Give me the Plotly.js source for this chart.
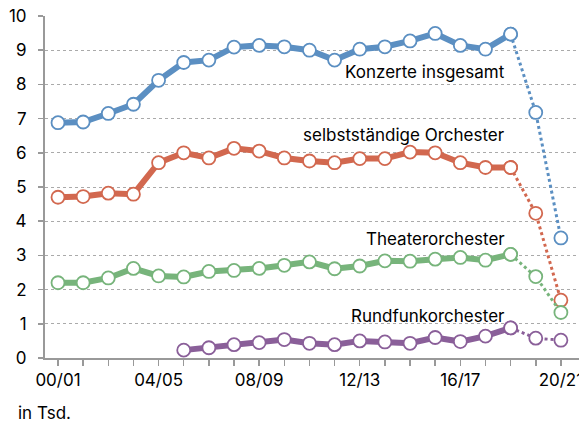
<!DOCTYPE html>
<html>
<head>
<meta charset="utf-8">
<script src="https://cdn.plot.ly/plotly-3.0.1.min.js"></script>
<style>html,body{margin:0;padding:0;background:#fff;}#chart{width:579px;height:424px;}</style>
</head>
<body>
<div id="chart"></div>
<script>
const seasons = ["00/01","01/02","02/03","03/04","04/05","05/06","06/07","07/08","08/09","09/10","10/11","11/12","12/13","13/14","14/15","15/16","16/17","17/18","18/19","19/20","20/21"];
const tickLabels = ["00/01","","","","04/05","","","","08/09","","","","12/13","","","","16/17","","","","20/21"];
const konzerte = [6.88,6.90,7.15,7.42,8.12,8.64,8.71,9.09,9.14,9.10,9.00,8.71,9.03,9.10,9.27,9.49,9.14,9.03,9.47,7.18,3.51];
const selbst = [4.70,4.72,4.82,4.79,5.71,6.00,5.85,6.13,6.05,5.85,5.76,5.71,5.83,5.83,6.02,6.00,5.71,5.57,5.57,4.23,1.69];
const theater = [2.20,2.20,2.34,2.62,2.40,2.37,2.53,2.56,2.62,2.71,2.81,2.61,2.69,2.84,2.83,2.89,2.94,2.86,3.03,2.38,1.33];
const rundfunk = [null,null,null,null,null,0.23,0.30,0.39,0.45,0.54,0.43,0.39,0.50,0.47,0.43,0.60,0.48,0.64,0.88,0.58,0.52];
const seriesNames = ["Konzerte insgesamt","selbstständige Orchester","Theaterorchester","Rundfunkorchester"];
const seriesData = [konzerte, selbst, theater, rundfunk];
const colors = ["#5b8fc2","#d2684f","#77b47b","#8a5f99"];
const labelY = [8.36, 6.52, 3.48, 1.23];
const cut = 18;

const traces = [];
seriesData.forEach((vals, i) => {
  traces.push({
    x: seasons.slice(cut), y: vals.slice(cut), type: "scatter", mode: "lines+markers",
    line: {color: colors[i], width: 3, dash: "dot"},
    marker: {symbol: "circle", size: 13, color: "#fff", line: {color: colors[i], width: 1.8}},
    hoverinfo: "skip", showlegend: false
  });
  traces.push({
    x: seasons.slice(0, cut + 1), y: vals.slice(0, cut + 1), type: "scatter", mode: "lines+markers",
    line: {color: colors[i], width: 6},
    marker: {symbol: "circle", size: 13, color: "#fff", line: {color: colors[i], width: 1.8}},
    name: seriesNames[i], showlegend: false
  });
});

const font = {family: "Inter, 'Liberation Sans', sans-serif", size: 17, color: "#000"};
const annotations = seriesNames.map((n, i) => ({
  text: n, xref: "paper", yref: "y", x: 0.865, y: labelY[i], xanchor: "right", yanchor: "middle",
  showarrow: false, font: font
}));
annotations.push({text: "in Tsd.", xref: "paper", yref: "paper", x: -0.054, y: -0.162,
  xanchor: "left", yanchor: "middle", showarrow: false, font: font});

const layout = {
  width: 579, height: 424,
  margin: {l: 45, r: 0, t: 16, b: 66},
  paper_bgcolor: "#fff", plot_bgcolor: "#fff",
  font: font, showlegend: false,
  xaxis: {
    type: "category", categoryorder: "array", categoryarray: seasons,
    range: [-0.517, 20.72],
    tickmode: "array", tickvals: seasons, ticktext: tickLabels,
    ticks: "outside", ticklen: 6, tickcolor: "#999", tickwidth: 1.5,
    showline: true, linecolor: "#999", linewidth: 2,
    showgrid: false, zeroline: false, tickfont: font
  },
  yaxis: {
    range: [0, 10], tickvals: [0,1,2,3,4,5,6,7,8,9,10],
    ticks: "outside", ticklen: 5, tickcolor: "#999", tickwidth: 1.5,
    showline: true, linecolor: "#999", linewidth: 2,
    showgrid: true, gridcolor: "#aaa", griddash: "dot", gridwidth: 1,
    zeroline: false, tickfont: font, ticklabelstandoff: 8
  },
  annotations: annotations
};
Plotly.newPlot("chart", traces, layout, {displayModeBar: false, staticPlot: true});
</script>
</body>
</html>
